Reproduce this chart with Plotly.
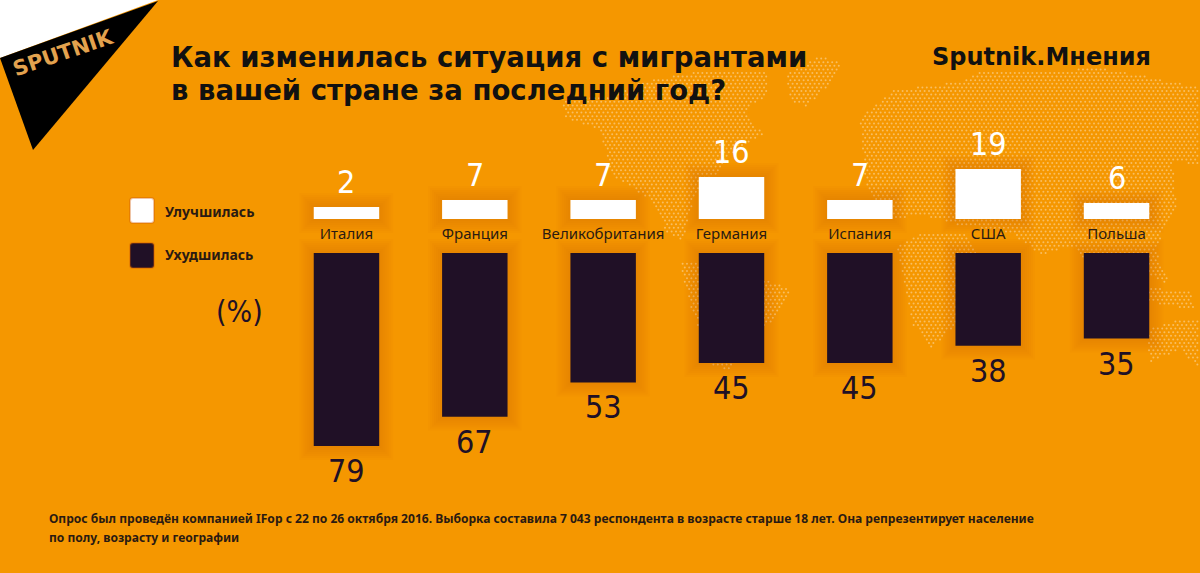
import numpy as np
import plotly.graph_objects as go

# ------------------------------------------------------------
# Data
# ------------------------------------------------------------
countries = ["Италия", "Франция", "Великобритания", "Германия", "Испания", "США", "Польша"]
better = [2, 7, 7, 16, 7, 19, 6]
worse = [79, 67, 53, 45, 45, 38, 35]
# the white bars as they are drawn: Italy's is longer than its "2" would be
better_drawn = [4.6, 7.2, 7.2, 16, 7.2, 19, 6.1]

W, H = 1200, 573
BG = "#F59700"
DARK = "#201026"
TEXT = "#2a1a12"
NARROW = "DejaVu Sans Condensed"
BODY = "Noto Sans"


def py(px):
    return 1 - px / H


# dotted world map behind the chart, continents sketched in page pixels
continents = [
    [(563, 100), (612, 96), (640, 82), (690, 73), (767, 73), (767, 95), (745, 110), (763, 135),
     (735, 150), (715, 175), (695, 195), (683, 240), (667, 232), (650, 200), (612, 175), (600, 130), (565, 117)],
    [(787, 75), (815, 57), (842, 60), (830, 85), (805, 107), (790, 100)],
    [(680, 262), (720, 258), (790, 290), (775, 320), (745, 340), (730, 370), (712, 365), (690, 305)],
    [(860, 118), (895, 90), (960, 82), (985, 70), (1040, 72), (1097, 68), (1140, 75), (1199, 88),
     (1199, 165), (1172, 160), (1176, 205), (1155, 250), (1170, 285), (1125, 265), (1100, 285), (1075, 245),
     (1040, 255), (1010, 232), (960, 225), (920, 215), (885, 220), (865, 180)],
    [(897, 245), (925, 232), (965, 235), (985, 262), (965, 285), (955, 325), (932, 348), (913, 325), (905, 285)],
    [(1130, 285), (1190, 292), (1195, 310), (1140, 300)],
    [(1147, 330), (1180, 320), (1199, 320), (1199, 368), (1180, 350), (1150, 362)],
]


def inside(px, py_, poly):
    hit = False
    for (x1, y1), (x2, y2) in zip(poly, poly[1:] + poly[:1]):
        if (y1 > py_) != (y2 > py_) and px < x1 + (py_ - y1) * (x2 - x1) / (y2 - y1):
            hit = not hit
    return hit


dots_x, dots_y = [], []
for row, gy in enumerate(np.arange(55, 375, 3.6)):
    for gx in np.arange(555 + (row % 2) * 2.2, 1200, 4.4):
        if any(inside(gx, gy, c) for c in continents):
            dots_x.append(gx)
            dots_y.append(gy)

fig = go.Figure()

fig.add_trace(go.Scatter(
    x=dots_x, y=dots_y, mode="markers", xaxis="x", yaxis="y", hoverinfo="skip",
    marker=dict(size=2, color="rgba(255,255,255,0.38)"),
))

# soft glow around the bars: wide translucent outlines under the real bars
for lw in (28, 24, 20, 16, 12, 8, 4):
    glow = dict(color="rgba(0,0,0,0)", line=dict(width=lw, color="rgba(205,85,0,0.035)"))
    fig.add_trace(go.Bar(x=countries, y=better_drawn, xaxis="x2", yaxis="y2", marker=glow, hoverinfo="skip"))
    fig.add_trace(go.Bar(x=countries, y=worse, xaxis="x3", yaxis="y3", marker=glow, hoverinfo="skip"))

fig.add_trace(go.Bar(x=countries, y=better_drawn, name="Улучшилась", xaxis="x2", yaxis="y2",
                     marker=dict(color="#FFFFFF", line=dict(width=0))))
fig.add_trace(go.Bar(x=countries, y=worse, name="Ухудшилась", xaxis="x3", yaxis="y3",
                     marker=dict(color=DARK, line=dict(width=0))))

notes = []


def note(text, x, y, size, color=TEXT, font=BODY, anchor="left", bold=False, angle=0):
    notes.append(dict(
        text=f"<b>{text}</b>" if bold else text, x=x / W, y=py(y), xref="paper", yref="paper",
        xanchor=anchor, yanchor="middle", showarrow=False, textangle=angle,
        font=dict(family=font, size=size, color=color),
    ))


# value labels follow the bar ends
for c, v, d in zip(countries, better, better_drawn):
    notes.append(dict(text=str(v), x=c, y=d, xref="x2", yref="y2", yshift=25, showarrow=False,
                      font=dict(family=NARROW, size=32, color="#FFFFFF")))
for c, v in zip(countries, worse):
    notes.append(dict(text=str(v), x=c, y=v, xref="x3", yref="y3", yshift=-25, showarrow=False,
                      font=dict(family=NARROW, size=32, color=DARK)))

note("Как изменилась ситуация с мигрантами", 169, 57, 27.5, "#111111", "DejaVu Sans", bold=True)
note("в вашей стране за последний год?", 169, 90, 27.5, "#111111", "DejaVu Sans", bold=True)
note("Sputnik.Мнения", 930, 57, 24, "#111111", "DejaVu Sans", bold=True)
note("Улучшилась", 163, 211, 14, bold=True)
note("Ухудшилась", 163, 255, 14, bold=True)
note("(%)", 239, 311, 30, DARK, NARROW, anchor="center")
note("Опрос был проведён компанией IFop с 22 по 26 октября 2016. Выборка составила 7 043 респондента "
     "в возрасте старше 18 лет. Она репрезентирует население", 47, 518, 12.05, bold=True)
note("по полу, возрасту и географии", 47, 537, 12.05, bold=True)
note("SPUTNIK", 63, 53, 21, "#E3A24E", "DejaVu Sans", anchor="center", bold=True, angle=-19)


def rounded(x0, y0, x1, y1, r=3):
    return (f"M{x0 + r},{y0} L{x1 - r},{y0} Q{x1},{y0} {x1},{y0 + r} L{x1},{y1 - r} Q{x1},{y1} {x1 - r},{y1} "
            f"L{x0 + r},{y1} Q{x0},{y1} {x0},{y1 - r} L{x0},{y0 + r} Q{x0},{y0} {x0 + r},{y0} Z")


shapes = [
    dict(type="path", path="M0,0 L158,0 L0,58 Z", xref="x", yref="y", fillcolor="#FFFFFF", line_width=0, layer="below"),
    dict(type="path", path="M0,58 L158,1 L33,150 Z", xref="x", yref="y", fillcolor="#000000", line_width=0, layer="below"),
    dict(type="path", path=rounded(130, 198, 154, 223), xref="x", yref="y", fillcolor="#FFFFFF",
         line=dict(width=2, color="rgba(205,85,0,0.35)"), layer="below"),
    dict(type="path", path=rounded(130, 243, 154, 268), xref="x", yref="y", fillcolor=DARK,
         line=dict(width=2, color="rgba(205,85,0,0.35)"), layer="below"),
]

bars_domain = [282.3 / W, 1180.7 / W]
hidden = dict(visible=False, fixedrange=True)

fig.update_layout(
    width=W, height=H, margin=dict(l=0, r=0, t=0, b=0), autosize=False,
    paper_bgcolor=BG, plot_bgcolor="rgba(0,0,0,0)",
    showlegend=False, barmode="overlay", bargap=0.49,
    annotations=notes, shapes=shapes,
    xaxis=dict(domain=[0, 1], range=[0, W], **hidden),
    yaxis=dict(domain=[0, 1], range=[H, 0], **hidden),
    # the bar plots reach a little past their baselines so the glow is not cut off there
    xaxis2=dict(domain=bars_domain, anchor="free", position=py(219), overlaying=None, type="category",
                categoryorder="array", categoryarray=countries,
                showline=False, showgrid=False, zeroline=False, ticks="", ticklabelstandoff=4, fixedrange=True,
                tickfont=dict(family=BODY, size=15, color=TEXT)),
    yaxis2=dict(domain=[py(233), py(109)], range=[-14 / 2.63, 110 / 2.63], anchor="x2", **hidden),
    xaxis3=dict(domain=bars_domain, anchor="y3", type="category", categoryorder="array", categoryarray=countries,
                **hidden),
    yaxis3=dict(domain=[py(503), py(239)], range=[250 / 2.443, -14 / 2.443], anchor="x3", **hidden),
)

fig.write_html("out.html", config=dict(displayModeBar=False), post_script="document.body.style.margin='0';")
